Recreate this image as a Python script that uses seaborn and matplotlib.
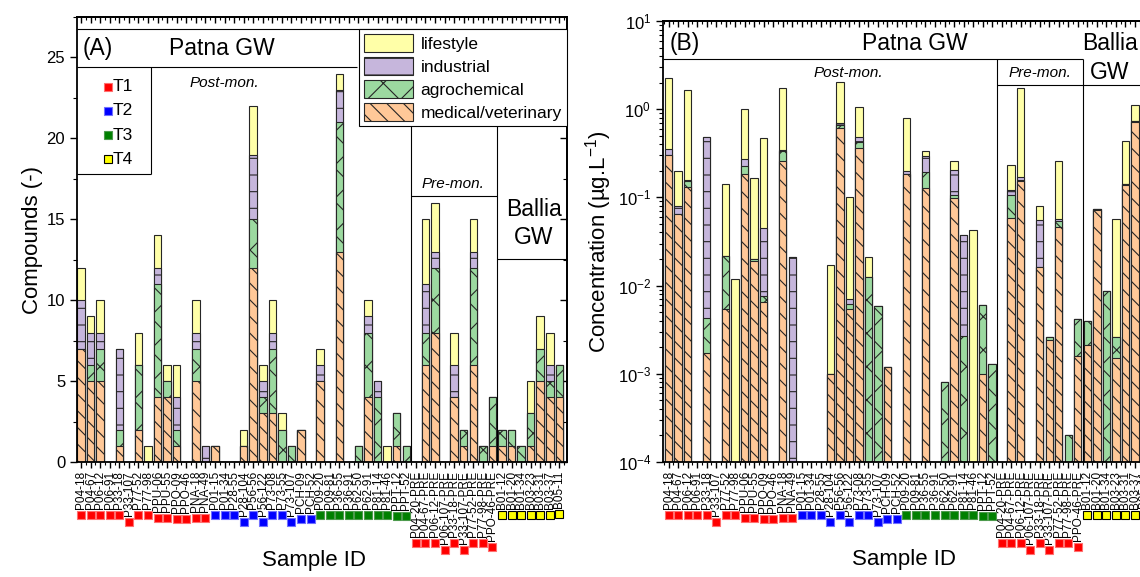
import numpy as np
import pandas as pd
import matplotlib
matplotlib.use("Agg")
import matplotlib.pyplot as plt
import seaborn as sns
from matplotlib.patches import Patch
from matplotlib.lines import Line2D
from matplotlib.ticker import MultipleLocator, LogLocator, NullFormatter

# sample IDs in plotting order
samples = ["P04-18", "P04-67", "P06-12", "P06-91", "P33-18", "P33-107", "P77-52", "P77-98",
           "PPU-06", "PPU-55", "PPO-09", "PPO-46", "PNA-18", "PNA-49",
           "P01-15", "P01-34", "P28-55", "P28-104", "P56-56", "P56-122", "P73-08", "P73-55",
           "P73-107", "PCH-09", "PCH-52",
           "P09-20", "P09-81", "P36-55", "P36-91", "P62-50", "P62-91", "P81-14", "P81-46",
           "PPT-12", "PPT-52",
           "P04-20-PRE", "P04-67-PRE", "P06-12-PRE", "P06-107-PRE", "P33-18-PRE",
           "P33-107-PRE", "P77-52-PRE", "P77-98-PRE", "PPO-46-PRE",
           "B01-12", "B01-20", "B01-34", "B03-23", "B03-31", "B03-37", "B05-11"]
sample_type = ["T1"] * 14 + ["T2"] * 11 + ["T3"] * 10 + ["T1"] * 9 + ["T4"] * 7

# (A) number of compounds per category
n_med = [7, 5, 5, 0, 1, 0, 2, 0, 4, 4, 1, 0, 5, 0,
         1, 0, 0, 1, 12, 3, 3, 0, 0, 2, 0,
         5, 0, 13, 0, 0, 4, 0, 0, 1, 0,
         0, 6, 8, 0, 4, 1, 6, 0, 1,
         1, 1, 0, 1, 5, 4, 4]
n_agro = [0, 1, 2, 0, 1, 0, 4, 0, 7, 1, 1, 0, 2, 0,
          0, 0, 0, 0, 3, 1, 4, 2, 1, 0, 0,
          0, 0, 8, 0, 1, 4, 4, 0, 2, 1,
          0, 2, 4, 0, 0, 1, 6, 1, 3,
          1, 1, 1, 2, 2, 1, 2]
n_ind = [3, 2, 1, 0, 5, 0, 0, 0, 1, 0, 2, 0, 1, 1,
         0, 0, 0, 0, 4, 1, 1, 0, 0, 0, 0,
         1, 0, 2, 0, 0, 1, 1, 0, 0, 0,
         0, 3, 1, 0, 2, 0, 1, 0, 0,
         0, 0, 0, 0, 0, 1, 0]
n_life = [2, 1, 2, 0, 0, 0, 2, 1, 2, 1, 2, 0, 2, 0,
          0, 0, 0, 1, 3, 1, 2, 1, 0, 0, 0,
          1, 0, 1, 0, 0, 1, 0, 1, 0, 0,
          0, 4, 3, 0, 2, 0, 2, 0, 0,
          0, 0, 0, 2, 2, 2, 0]

# (B) concentrations per category (ug/L)
c_med = [0.30, 0.064, 0.132, 0, 0.0017, 0, 0.0054, 0, 0.184, 0.0192, 0.0066, 0, 0.256, 0,
         0, 0, 0, 0.001, 0.62, 0.0054, 0.36, 0, 0, 0.0012, 0,
         0.184, 0, 0.128, 0, 0, 0.098, 0, 0, 0.001, 0,
         0, 0.058, 0.152, 0, 0.0164, 0.0024, 0.0457, 0, 0.0016,
         0.0021, 0.072, 0, 0.0015, 0.139, 0.725, 0.016]
c_agro = [0, 0.001, 0.022, 0, 0.0026, 0, 0.016, 0, 0.044, 0.0008, 0.001, 0, 0.081, 0,
          0, 0, 0, 0, 0.035, 0.0008, 0.06, 0.0124, 0.0058, 0, 0,
          0, 0, 0.064, 0, 0.0008, 0.009, 0.0027, 0, 0.0051, 0.0013,
          0, 0.049, 0.005, 0, 0, 0.0002, 0.0087, 0.0002, 0.0026,
          0.0019, 0.0015, 0.0086, 0.0011, 0.003, 0.005, 0.006]
c_ind = [0.055, 0.014, 0.004, 0, 0.474, 0, 0, 0, 0.048, 0, 0.037, 0, 0.008, 0.0209,
         0, 0, 0, 0, 0.05, 0.0008, 0.058, 0, 0, 0, 0,
         0.016, 0, 0.104, 0, 0, 0.097, 0.035, 0, 0, 0,
         0, 0.014, 0.014, 0, 0.039, 0, 0.002, 0, 0,
         0, 0, 0, 0, 0, 0.005, 0]
c_life = [1.92, 0.12, 1.5, 0, 0, 0, 0.122, 0.0119, 0.72, 0.148, 0.43, 0, 1.38, 0,
          0, 0, 0, 0.016, 1.34, 0.095, 0.59, 0.0085, 0, 0, 0,
          0.6, 0, 0.041, 0, 0, 0.052, 0, 0.0427, 0, 0,
          0, 0.113, 1.59, 0, 0.025, 0, 0.2, 0, 0,
          0, 0, 0, 0.055, 0.29, 0.375, 0]

cat_labels = {"life": "lifestyle", "ind": "industrial", "agro": "agrochemical", "med": "medical/veterinary"}
cat_colors = {"life": "#FFFFA8", "ind": "#C6B6DC", "agro": "#9CD9A0", "med": "#FFC898"}
cat_hatch = {"life": "", "ind": "-", "agro": "x", "med": "\\\\"}
type_colors = {"T1": "#FF0000", "T2": "#0000FF", "T3": "#008000", "T4": "#FFFF00"}
type_edges = {"T1": "#FF7070", "T2": "#7070FF", "T3": "#4C9A4C", "T4": "#000000"}
EDGE = "#262626"

sns.set_theme(style="ticks")
plt.rcParams["font.family"] = ["Liberation Sans", "DejaVu Sans"]
plt.rcParams["mathtext.fontset"] = "custom"
plt.rcParams["mathtext.rm"] = "Liberation Sans"
plt.rcParams["mathtext.it"] = "Liberation Sans:italic"
plt.rcParams["mathtext.bf"] = "Liberation Sans:bold"
plt.rcParams["hatch.linewidth"] = 0.8
for k in ["text.color", "axes.labelcolor", "xtick.color", "ytick.color", "axes.edgecolor"]:
    plt.rcParams[k] = "black"


def draw_layers(ax, med, agro, ind, life, log=False):
    med, agro, ind, life = (np.asarray(v, float) for v in (med, agro, ind, life))
    tops = {"life": med + agro + ind + life, "ind": med + agro + ind, "agro": med + agro, "med": med}
    # draw the cumulative totals from the top category down, each one over the last
    for key in ["life", "ind", "agro", "med"]:
        top = tops[key]
        if log:
            top = np.where(top > 0, top, np.nan)
        df = pd.DataFrame({"sample": samples, "value": top})
        sns.barplot(data=df, x="sample", y="value", order=samples, color=cat_colors[key],
                    hatch=cat_hatch[key], edgecolor=EDGE, linewidth=0.8, width=0.78,
                    saturation=1, errorbar=None, ax=ax)


def style_axes(ax):
    for s in ax.spines.values():
        s.set_linewidth(1.3)
    ax.set_xticks(range(len(samples)))
    ax.set_xticklabels(samples, rotation=90, fontsize=8.5)
    ax.xaxis.set_minor_locator(MultipleLocator(0.5))
    ax.tick_params(axis="x", which="major", direction="out", length=4.5, width=1, pad=2,
                   bottom=True, top=False)
    ax.tick_params(axis="x", which="minor", direction="out", length=2.5, width=0.8,
                   bottom=True, top=False)
    ax.tick_params(axis="y", which="major", direction="out", length=5, width=1,
                   labelsize=12, left=True, right=False)
    ax.tick_params(axis="y", which="minor", direction="out", length=3, width=0.8,
                   left=True, right=False)
    sec = ax.secondary_xaxis("top")
    sec.xaxis.set_major_locator(MultipleLocator(1))
    sec.xaxis.set_minor_locator(MultipleLocator(0.5))
    sec.tick_params(which="major", direction="in", length=4.5, width=1, labeltop=False)
    sec.tick_params(which="minor", direction="in", length=2.5, width=0.8)
    sec.spines["top"].set_linewidth(1.3)
    return sec


fig = plt.figure(figsize=(11.4, 5.77), dpi=100)
axA = fig.add_axes([77 / 1140, 115 / 577, 490 / 1140, 445 / 577])
axB = fig.add_axes([663 / 1140, 115 / 577, 489 / 1140, 441 / 577])

# ---------------- panel A ----------------
draw_layers(axA, n_med, n_agro, n_ind, n_life)
axA.set_xlim(-0.42, 50.8)
axA.set_ylim(0, 27.5)
style_axes(axA)
axA.yaxis.set_major_locator(MultipleLocator(5))
axA.yaxis.set_minor_locator(MultipleLocator(2.5))
secA = axA.secondary_yaxis("right")
secA.yaxis.set_major_locator(MultipleLocator(5))
secA.yaxis.set_minor_locator(MultipleLocator(2.5))
secA.tick_params(which="major", direction="in", length=5, width=1, labelright=False)
secA.tick_params(which="minor", direction="in", length=3, width=0.8)
axA.set_ylabel("Compounds (-)", fontsize=16)
axA.set_xlabel("Sample ID", fontsize=16)
axA.yaxis.set_label_coords(-0.07, 0.5)
axA.xaxis.set_label_coords(0.484, -0.198)

lk = dict(color="black", lw=0.8)
axA.hlines(26.75, -0.42, 50.8, **lk)
axA.hlines(24.4, -0.42, 28.85, **lk)
axA.vlines(7.3, 17.8, 24.4, **lk)
axA.hlines(17.8, -0.42, 7.3, **lk)
axA.vlines([34.5, 43.5], 0, 20.8, **lk)
axA.hlines(16.45, 34.5, 43.5, **lk)
axA.hlines(12.55, 43.5, 50.8, **lk)
axA.text(0.2, 25.55, "(A)", fontsize=16.5, ha="left", va="center")
axA.text(14.7, 25.55, "Patna GW", fontsize=16.5, ha="center", va="center")
axA.text(14.95, 23.4, "Post-mon.", fontsize=11, style="italic", ha="center", va="center")
axA.text(38.9, 17.2, "Pre-mon.", fontsize=11, style="italic", ha="center", va="center")
axA.text(47.3, 15.6, "Ballia", fontsize=16.5, ha="center", va="center")
axA.text(47.3, 13.85, "GW", fontsize=16.5, ha="center", va="center")

# T-type key
for i, t in enumerate(["T1", "T2", "T3", "T4"]):
    yy = 23.2 - 1.5 * i
    axA.plot([2.8], [yy], marker="s", ms=5.5, mfc=type_colors[t], mec=type_edges[t],
             mew=0.8, ls="none")
    axA.text(3.3, yy, t, fontsize=12.5, ha="left", va="center")

handles = [Patch(facecolor=cat_colors[k], edgecolor=EDGE, hatch=cat_hatch[k], linewidth=0.8,
                 label=cat_labels[k]) for k in ["life", "ind", "agro", "med"]]
leg = axA.legend(handles=handles, loc="upper right", bbox_to_anchor=(50.8, 26.75),
                 bbox_transform=axA.transData, borderaxespad=0, fontsize=12.5,
                 handlelength=2.8, handleheight=1.2, handletextpad=0.45, labelspacing=0.3,
                 borderpad=0.3, frameon=True, fancybox=False, framealpha=1, edgecolor="black")
leg.get_frame().set_linewidth(0.8)

# ---------------- panel B ----------------
draw_layers(axB, c_med, c_agro, c_ind, c_life, log=True)
axB.set_yscale("log")
axB.set_xlim(-0.58, 50.8)
axB.set_ylim(1e-4, 10)
style_axes(axB)
axB.yaxis.set_major_locator(LogLocator(base=10))
axB.yaxis.set_minor_locator(LogLocator(base=10, subs=np.arange(2, 10)))
axB.yaxis.set_minor_formatter(NullFormatter())
axB.set_ylabel("Concentration (\u00b5g.L$^{-1}$)", fontsize=16)
axB.set_xlabel("Sample ID", fontsize=16)
axB.yaxis.set_label_coords(-0.1, 0.5)
axB.xaxis.set_label_coords(0.493, -0.198)

axB.hlines(3.71, -0.58, 43.5, **lk)
axB.vlines([34.5, 43.5], 1e-4, 3.71, **lk)
axB.hlines(1.88, 34.5, 50.8, **lk)
axB.text(0.15, 5.6, "(B)", fontsize=16.5, ha="left", va="center")
axB.text(25.9, 5.6, "Patna GW", fontsize=16.5, ha="center", va="center")
axB.text(18.9, 2.6, "Post-mon.", fontsize=11, style="italic", ha="center", va="center")
axB.text(39.0, 2.6, "Pre-mon.", fontsize=11, style="italic", ha="center", va="center")
axB.text(46.4, 5.6, "Ballia", fontsize=16.5, ha="center", va="center")
axB.text(46.4, 2.6, "GW", fontsize=16.5, ha="center", va="center")

# coloured type squares under each tick label
fig.canvas.draw()
renderer = fig.canvas.get_renderer()
W, H = fig.bbox.width, fig.bbox.height
for ax in (axA, axB):
    for lab, t in zip(ax.get_xticklabels(), sample_type):
        bb = lab.get_window_extent(renderer)
        cx = 0.5 * (bb.x0 + bb.x1)
        if cx > W:
            continue
        cy = bb.y0 - 6
        fig.add_artist(Line2D([cx / W], [cy / H], transform=fig.transFigure, marker="s",
                              ms=6.2, mfc=type_colors[t], mec=type_edges[t], mew=0.8,
                              ls="none"))

fig.savefig("out.png", dpi=100)
